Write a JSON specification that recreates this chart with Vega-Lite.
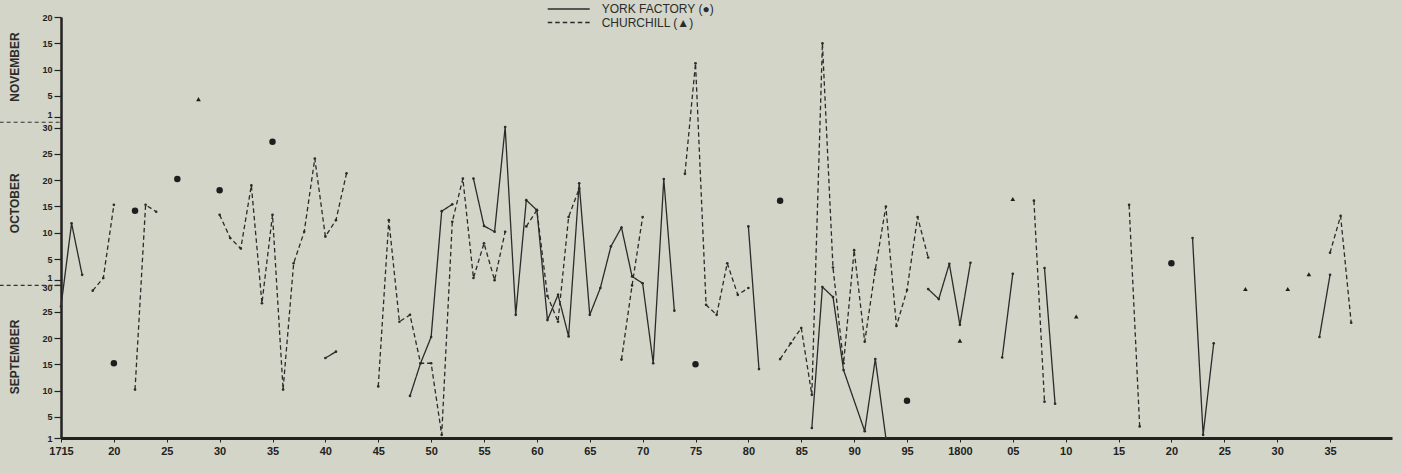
{
  "$schema": "https://vega.github.io/schema/vega-lite/v6.json",
  "autosize": {"type": "none"},
  "padding": {"left": 61, "top": 17, "right": 10, "bottom": 35},
  "width": 1331,
  "height": 421,
  "background": "#d2d5c8",
  "config": {
    "view": {"stroke": null},
    "font": "Liberation Sans",
    "axis": {"grid": false, "domainColor": "#222222", "tickColor": "#222222", "labelColor": "#222222", "labelOverlap": false, "labelFlush": false, "title": null}
  },
  "datasets": {
    "lines": [
      {"series": "YORK FACTORY (●)", "segment": "Y1", "year": 1715, "day": 26},
      {"series": "YORK FACTORY (●)", "segment": "Y1", "year": 1716, "day": 41.8},
      {"series": "YORK FACTORY (●)", "segment": "Y1", "year": 1717, "day": 32},
      {"series": "YORK FACTORY (●)", "segment": "Y2", "year": 1740, "day": 16.2},
      {"series": "YORK FACTORY (●)", "segment": "Y2", "year": 1741, "day": 17.4},
      {"series": "YORK FACTORY (●)", "segment": "Y3", "year": 1748, "day": 9},
      {"series": "YORK FACTORY (●)", "segment": "Y3", "year": 1749, "day": 15.2},
      {"series": "YORK FACTORY (●)", "segment": "Y3", "year": 1750, "day": 20.2},
      {"series": "YORK FACTORY (●)", "segment": "Y3", "year": 1751, "day": 44.1},
      {"series": "YORK FACTORY (●)", "segment": "Y3", "year": 1752, "day": 45.4},
      {"series": "YORK FACTORY (●)", "segment": "Y4", "year": 1754, "day": 50.3},
      {"series": "YORK FACTORY (●)", "segment": "Y4", "year": 1755, "day": 41.3},
      {"series": "YORK FACTORY (●)", "segment": "Y4", "year": 1756, "day": 40.2},
      {"series": "YORK FACTORY (●)", "segment": "Y4", "year": 1757, "day": 60.1},
      {"series": "YORK FACTORY (●)", "segment": "Y4", "year": 1758, "day": 24.4},
      {"series": "YORK FACTORY (●)", "segment": "Y4", "year": 1759, "day": 46.2},
      {"series": "YORK FACTORY (●)", "segment": "Y4", "year": 1760, "day": 44.3},
      {"series": "YORK FACTORY (●)", "segment": "Y4", "year": 1761, "day": 23.4},
      {"series": "YORK FACTORY (●)", "segment": "Y4", "year": 1762, "day": 28.2},
      {"series": "YORK FACTORY (●)", "segment": "Y4", "year": 1763, "day": 20.3},
      {"series": "YORK FACTORY (●)", "segment": "Y4", "year": 1764, "day": 49.4},
      {"series": "YORK FACTORY (●)", "segment": "Y4", "year": 1765, "day": 24.4},
      {"series": "YORK FACTORY (●)", "segment": "Y4", "year": 1766, "day": 29.5},
      {"series": "YORK FACTORY (●)", "segment": "Y4", "year": 1767, "day": 37.4},
      {"series": "YORK FACTORY (●)", "segment": "Y4", "year": 1768, "day": 41},
      {"series": "YORK FACTORY (●)", "segment": "Y4", "year": 1769, "day": 31.7},
      {"series": "YORK FACTORY (●)", "segment": "Y4", "year": 1770, "day": 30.4},
      {"series": "YORK FACTORY (●)", "segment": "Y4", "year": 1771, "day": 15.2},
      {"series": "YORK FACTORY (●)", "segment": "Y4", "year": 1772, "day": 50.2},
      {"series": "YORK FACTORY (●)", "segment": "Y4", "year": 1773, "day": 25.2},
      {"series": "YORK FACTORY (●)", "segment": "Y5", "year": 1780, "day": 41.2},
      {"series": "YORK FACTORY (●)", "segment": "Y5", "year": 1781, "day": 14.1},
      {"series": "YORK FACTORY (●)", "segment": "Y6", "year": 1786, "day": 2.9},
      {"series": "YORK FACTORY (●)", "segment": "Y6", "year": 1787, "day": 29.7},
      {"series": "YORK FACTORY (●)", "segment": "Y6", "year": 1788, "day": 27.8},
      {"series": "YORK FACTORY (●)", "segment": "Y6", "year": 1789, "day": 13.9},
      {"series": "YORK FACTORY (●)", "segment": "Y6", "year": 1791, "day": 2.3},
      {"series": "YORK FACTORY (●)", "segment": "Y6", "year": 1792, "day": 16},
      {"series": "YORK FACTORY (●)", "segment": "Y6", "year": 1793, "day": 1},
      {"series": "YORK FACTORY (●)", "segment": "Y7", "year": 1797, "day": 29.3},
      {"series": "YORK FACTORY (●)", "segment": "Y7", "year": 1798, "day": 27.4},
      {"series": "YORK FACTORY (●)", "segment": "Y7", "year": 1799, "day": 34.1},
      {"series": "YORK FACTORY (●)", "segment": "Y7", "year": 1800, "day": 22.5},
      {"series": "YORK FACTORY (●)", "segment": "Y7", "year": 1801, "day": 34.3},
      {"series": "YORK FACTORY (●)", "segment": "Y8", "year": 1804, "day": 16.3},
      {"series": "YORK FACTORY (●)", "segment": "Y8", "year": 1805, "day": 32.2},
      {"series": "YORK FACTORY (●)", "segment": "Y9", "year": 1808, "day": 33.3},
      {"series": "YORK FACTORY (●)", "segment": "Y9", "year": 1809, "day": 7.5},
      {"series": "YORK FACTORY (●)", "segment": "Y10", "year": 1822, "day": 39},
      {"series": "YORK FACTORY (●)", "segment": "Y10", "year": 1823, "day": 1.6},
      {"series": "YORK FACTORY (●)", "segment": "Y10", "year": 1824, "day": 19},
      {"series": "YORK FACTORY (●)", "segment": "Y11", "year": 1834, "day": 20.2},
      {"series": "YORK FACTORY (●)", "segment": "Y11", "year": 1835, "day": 32},
      {"series": "CHURCHILL (▲)", "segment": "C1", "year": 1718, "day": 29},
      {"series": "CHURCHILL (▲)", "segment": "C1", "year": 1719, "day": 31.4},
      {"series": "CHURCHILL (▲)", "segment": "C1", "year": 1720, "day": 45.3},
      {"series": "CHURCHILL (▲)", "segment": "C2", "year": 1722, "day": 10.2},
      {"series": "CHURCHILL (▲)", "segment": "C2", "year": 1723, "day": 45.3},
      {"series": "CHURCHILL (▲)", "segment": "C2", "year": 1724, "day": 44},
      {"series": "CHURCHILL (▲)", "segment": "C3", "year": 1730, "day": 43.4},
      {"series": "CHURCHILL (▲)", "segment": "C3", "year": 1731, "day": 39},
      {"series": "CHURCHILL (▲)", "segment": "C3", "year": 1732, "day": 37},
      {"series": "CHURCHILL (▲)", "segment": "C3", "year": 1733, "day": 49},
      {"series": "CHURCHILL (▲)", "segment": "C3", "year": 1734, "day": 26.6},
      {"series": "CHURCHILL (▲)", "segment": "C3", "year": 1735, "day": 43.4},
      {"series": "CHURCHILL (▲)", "segment": "C3", "year": 1736, "day": 10.2},
      {"series": "CHURCHILL (▲)", "segment": "C3", "year": 1737, "day": 34.2},
      {"series": "CHURCHILL (▲)", "segment": "C3", "year": 1738, "day": 40.2},
      {"series": "CHURCHILL (▲)", "segment": "C3", "year": 1739, "day": 54.1},
      {"series": "CHURCHILL (▲)", "segment": "C3", "year": 1740, "day": 39.3},
      {"series": "CHURCHILL (▲)", "segment": "C3", "year": 1741, "day": 42.4},
      {"series": "CHURCHILL (▲)", "segment": "C3", "year": 1742, "day": 51.3},
      {"series": "CHURCHILL (▲)", "segment": "C4", "year": 1745, "day": 10.8},
      {"series": "CHURCHILL (▲)", "segment": "C4", "year": 1746, "day": 42.4},
      {"series": "CHURCHILL (▲)", "segment": "C4", "year": 1747, "day": 23.1},
      {"series": "CHURCHILL (▲)", "segment": "C4", "year": 1748, "day": 24.4},
      {"series": "CHURCHILL (▲)", "segment": "C4", "year": 1749, "day": 15.2},
      {"series": "CHURCHILL (▲)", "segment": "C4", "year": 1750, "day": 15.2},
      {"series": "CHURCHILL (▲)", "segment": "C4", "year": 1751, "day": 1.6},
      {"series": "CHURCHILL (▲)", "segment": "C4", "year": 1752, "day": 42.1},
      {"series": "CHURCHILL (▲)", "segment": "C4", "year": 1753, "day": 50.3},
      {"series": "CHURCHILL (▲)", "segment": "C4", "year": 1754, "day": 31.4},
      {"series": "CHURCHILL (▲)", "segment": "C4", "year": 1755, "day": 38},
      {"series": "CHURCHILL (▲)", "segment": "C4", "year": 1756, "day": 31},
      {"series": "CHURCHILL (▲)", "segment": "C4", "year": 1757, "day": 40.2},
      {"series": "CHURCHILL (▲)", "segment": "C5", "year": 1759, "day": 41.2},
      {"series": "CHURCHILL (▲)", "segment": "C5", "year": 1760, "day": 44.3},
      {"series": "CHURCHILL (▲)", "segment": "C5", "year": 1761, "day": 28},
      {"series": "CHURCHILL (▲)", "segment": "C5", "year": 1762, "day": 23.1},
      {"series": "CHURCHILL (▲)", "segment": "C5", "year": 1763, "day": 43},
      {"series": "CHURCHILL (▲)", "segment": "C5", "year": 1764, "day": 48.4},
      {"series": "CHURCHILL (▲)", "segment": "C6", "year": 1768, "day": 15.9},
      {"series": "CHURCHILL (▲)", "segment": "C6", "year": 1769, "day": 30},
      {"series": "CHURCHILL (▲)", "segment": "C6", "year": 1770, "day": 43},
      {"series": "CHURCHILL (▲)", "segment": "C7", "year": 1774, "day": 51.2},
      {"series": "CHURCHILL (▲)", "segment": "C7", "year": 1775, "day": 72.2},
      {"series": "CHURCHILL (▲)", "segment": "C7", "year": 1776, "day": 26.3},
      {"series": "CHURCHILL (▲)", "segment": "C7", "year": 1777, "day": 24.4},
      {"series": "CHURCHILL (▲)", "segment": "C7", "year": 1778, "day": 34.2},
      {"series": "CHURCHILL (▲)", "segment": "C7", "year": 1779, "day": 28.2},
      {"series": "CHURCHILL (▲)", "segment": "C7", "year": 1780, "day": 29.5},
      {"series": "CHURCHILL (▲)", "segment": "C8", "year": 1783, "day": 16},
      {"series": "CHURCHILL (▲)", "segment": "C8", "year": 1784, "day": 19},
      {"series": "CHURCHILL (▲)", "segment": "C8", "year": 1785, "day": 21.9},
      {"series": "CHURCHILL (▲)", "segment": "C8", "year": 1786, "day": 9.2},
      {"series": "CHURCHILL (▲)", "segment": "C8", "year": 1787, "day": 76},
      {"series": "CHURCHILL (▲)", "segment": "C8", "year": 1788, "day": 33.4},
      {"series": "CHURCHILL (▲)", "segment": "C8", "year": 1789, "day": 15.2},
      {"series": "CHURCHILL (▲)", "segment": "C8", "year": 1790, "day": 36.7},
      {"series": "CHURCHILL (▲)", "segment": "C8", "year": 1791, "day": 19.3},
      {"series": "CHURCHILL (▲)", "segment": "C8", "year": 1792, "day": 33},
      {"series": "CHURCHILL (▲)", "segment": "C8", "year": 1793, "day": 45},
      {"series": "CHURCHILL (▲)", "segment": "C8", "year": 1794, "day": 22.3},
      {"series": "CHURCHILL (▲)", "segment": "C8", "year": 1795, "day": 29.1},
      {"series": "CHURCHILL (▲)", "segment": "C8", "year": 1796, "day": 43},
      {"series": "CHURCHILL (▲)", "segment": "C8", "year": 1797, "day": 35.3},
      {"series": "CHURCHILL (▲)", "segment": "C9", "year": 1807, "day": 46.1},
      {"series": "CHURCHILL (▲)", "segment": "C9", "year": 1808, "day": 7.9},
      {"series": "CHURCHILL (▲)", "segment": "C10", "year": 1816, "day": 45.3},
      {"series": "CHURCHILL (▲)", "segment": "C10", "year": 1817, "day": 3.2},
      {"series": "CHURCHILL (▲)", "segment": "C11", "year": 1835, "day": 36.2},
      {"series": "CHURCHILL (▲)", "segment": "C11", "year": 1836, "day": 43.2},
      {"series": "CHURCHILL (▲)", "segment": "C11", "year": 1837, "day": 22.9}
    ],
    "yorkSingles": [
      {"year": 1720, "day": 15.2},
      {"year": 1722, "day": 44.2},
      {"year": 1726, "day": 50.2},
      {"year": 1730, "day": 48.1},
      {"year": 1735, "day": 57.3},
      {"year": 1775, "day": 15},
      {"year": 1783, "day": 46.1},
      {"year": 1795, "day": 8.1},
      {"year": 1820, "day": 34.2}
    ],
    "churchillSingles": [
      {"year": 1728, "day": 65.4},
      {"year": 1800, "day": 19.5},
      {"year": 1805, "day": 46.4},
      {"year": 1811, "day": 24.1},
      {"year": 1827, "day": 29.3},
      {"year": 1831, "day": 29.3},
      {"year": 1833, "day": 32.1}
    ],
    "months": [
      {"month": "NOVEMBER", "day": 71.5},
      {"month": "OCTOBER", "day": 45.6},
      {"month": "SEPTEMBER", "day": 16.4}
    ],
    "bounds": [
      {"day": 30},
      {"day": 61}
    ]
  },
  "encoding": {
    "y": {
      "field": "day", "type": "quantitative",
      "scale": {"domain": [1, 81], "nice": false, "zero": false},
      "axis": {
        "values": [1, 5, 10, 15, 20, 25, 30, 31, 35, 40, 45, 50, 55, 60, 62, 66, 71, 76, 81],
        "labelExpr": "datum.value <= 30 ? '' + datum.value : (datum.value <= 61 ? '' + (datum.value - 30) : '' + (datum.value - 61))",
        "labelOverlap": false, "labelFlush": false, "labelBound": false,
        "labelOffset": {"condition": [{"test": "datum.value == 31 || datum.value == 62", "value": -2.3}, {"test": "datum.value == 30", "value": 2.6}], "value": 0},
        "domainWidth": 2.5, "tickSize": 7, "tickWidth": 1.2, "labelFontSize": 9, "labelFontWeight": "bold", "labelPadding": 2
      }
    }
  },
  "layer": [
    {
      "data": {"name": "lines"},
      "mark": {"type": "line", "color": "#2b2b2b", "strokeWidth": 1.3},
      "encoding": {
        "x": {
          "field": "year", "type": "quantitative",
          "scale": {"domain": [1715, 1840.86], "nice": false, "zero": false},
          "axis": {
            "values": [1715, 1720, 1725, 1730, 1735, 1740, 1745, 1750, 1755, 1760, 1765, 1770, 1775, 1780, 1785, 1790, 1795, 1800, 1805, 1810, 1815, 1820, 1825, 1830, 1835],
            "labelExpr": "datum.value == 1715 || datum.value == 1800 ? '' + datum.value : (datum.value % 100 < 10 ? '0' + (datum.value % 100) : '' + (datum.value % 100))",
            "labelOverlap": false, "labelFlush": false,
            "domainWidth": 3, "tickSize": 4, "tickWidth": 1, "labelFontSize": 11, "labelFontWeight": "bold", "labelPadding": 3
          }
        },
        "detail": {"field": "segment"},
        "strokeDash": {
          "field": "series", "type": "nominal",
          "scale": {"domain": ["YORK FACTORY (●)", "CHURCHILL (▲)"], "range": [[1, 0], [4.5, 3]]},
          "legend": {
            "orient": "none", "legendX": 501.7, "legendY": -14, "title": null, "padding": 0,
            "symbolType": "M-4,0H4", "symbolSize": 110, "symbolStrokeColor": "#2b2b2b", "symbolStrokeWidth": 1.3,
            "labelFontSize": 12, "labelColor": "#2b2b2b", "labelOffset": 27, "rowPadding": 1.5
          }
        }
      }
    },
    {
      "data": {"name": "bounds"},
      "mark": {"type": "rule", "strokeDash": [4, 3], "strokeWidth": 1.2, "color": "#333333"},
      "encoding": {
        "x": {"datum": 1709.2, "type": "quantitative"},
        "x2": {"datum": 1715}
      }
    },
    {
      "data": {"name": "months"},
      "mark": {"type": "text", "angle": 270, "fontSize": 12, "fontWeight": "bold", "color": "#2b2b2b", "align": "center", "baseline": "middle"},
      "encoding": {
        "x": {"datum": 1710.65, "type": "quantitative"},
        "text": {"field": "month"}
      }
    },
    {
      "data": {"name": "lines"},
      "mark": {"type": "point", "filled": true, "size": 7, "color": "#2b2b2b", "opacity": 1},
      "encoding": {
        "x": {"field": "year", "type": "quantitative"}
      }
    },
    {
      "data": {"name": "yorkSingles"},
      "mark": {"type": "point", "shape": "circle", "filled": true, "size": 42, "color": "#1e1e1e", "opacity": 1},
      "encoding": {
        "x": {"field": "year", "type": "quantitative"}
      }
    },
    {
      "data": {"name": "churchillSingles"},
      "mark": {"type": "point", "shape": "triangle-up", "filled": true, "size": 22, "color": "#1e1e1e", "opacity": 1},
      "encoding": {
        "x": {"field": "year", "type": "quantitative"}
      }
    }
  ]
}
